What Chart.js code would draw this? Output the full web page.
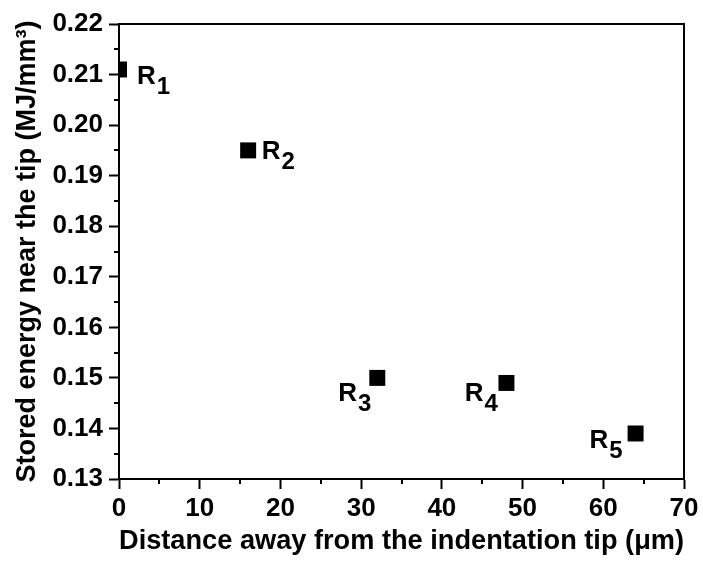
<!DOCTYPE html>
<html>
<head>
<meta charset="utf-8">
<script src="https://cdn.jsdelivr.net/npm/chart.js@4.4.1/dist/chart.umd.min.js"></script>
<style>
  html, body { margin: 0; padding: 0; background: #fff; }
  #c { display: block; }
</style>
</head>
<body>
<canvas id="c" width="703" height="565"></canvas>
<script>
// ---- data ----
const regionNames = ['R', 'R', 'R', 'R', 'R'];
const regionSubs = ['1', '2', '3', '4', '5'];
const distance = [0, 16, 32, 48, 64];            // µm
const storedEnergy = [0.211, 0.195, 0.150, 0.149, 0.139]; // MJ/mm^3
const xTickValues = [0, 10, 20, 30, 40, 50, 60, 70];
const yTickValues = [0.13, 0.14, 0.15, 0.16, 0.17, 0.18, 0.19, 0.20, 0.21, 0.22];
const xMinorTicks = [5, 15, 25, 35, 45, 55, 65];
const yMinorTicks = [0.135, 0.145, 0.155, 0.165, 0.175, 0.185, 0.195, 0.205, 0.215];

// label placement (offsets from marker centre, px) - styling only
const labelPlacement = [
  { dx: 18, dy: 14, align: 'left' },
  { dx: 13.5, dy: 9, align: 'left' },
  { dx: -6, dy: 23, align: 'right' },
  { dx: -8.5, dy: 18.5, align: 'right' },
  { dx: -13, dy: 14, align: 'right' }
];

const FONT = "'Liberation Sans', Arial, sans-serif";

const framePlugin = {
  id: 'frame',
  afterDatasetsDraw(chart) {
    const { ctx, chartArea: a, scales } = chart;
    ctx.save();
    ctx.strokeStyle = '#000';
    ctx.lineWidth = 2;
    ctx.beginPath();
    ctx.moveTo(a.left - 1, a.top);
    ctx.lineTo(a.right, a.top);
    ctx.lineTo(a.right, a.bottom);
    ctx.stroke();
    // minor ticks
    ctx.lineWidth = 2;
    ctx.beginPath();
    xMinorTicks.forEach(v => {
      const px = Math.round(scales.x.getPixelForValue(v));
      ctx.moveTo(px, a.bottom);
      ctx.lineTo(px, a.bottom + 5);
    });
    yMinorTicks.forEach(v => {
      const py = Math.round(scales.y.getPixelForValue(v));
      ctx.moveTo(a.left, py);
      ctx.lineTo(a.left - 5, py);
    });
    ctx.stroke();
    // labels
    ctx.fillStyle = '#000';
    ctx.textBaseline = 'alphabetic';
    distance.forEach((d, i) => {
      const cx = scales.x.getPixelForValue(d);
      const cy = scales.y.getPixelForValue(storedEnergy[i]);
      const p = labelPlacement[i];
      const mainFont = 'bold 26px ' + FONT;
      const subFont = 'bold 24px ' + FONT;
      ctx.font = mainFont;
      const w1 = ctx.measureText(regionNames[i]).width;
      ctx.font = subFont;
      const w2 = ctx.measureText(regionSubs[i]).width;
      let x0 = cx + p.dx;
      if (p.align === 'right') x0 = cx + p.dx - (w1 + 1 + w2);
      const base = cy + p.dy;
      ctx.font = mainFont;
      ctx.fillText(regionNames[i], x0, base);
      ctx.font = subFont;
      ctx.fillText(regionSubs[i], x0 + w1 + 1, base + 10);
    });
    ctx.restore();
  }
};

new Chart(document.getElementById('c'), {
  type: 'scatter',
  data: {
    datasets: [{
      data: distance.map((d, i) => ({ x: d, y: storedEnergy[i] })),
      pointStyle: 'rect',
      pointRadius: 11.3,
      pointHoverRadius: 11.3,
      pointBackgroundColor: '#000',
      pointBorderWidth: 0,
      borderWidth: 0,
      clip: 0
    }]
  },
  options: {
    responsive: false,
    animation: false,
    devicePixelRatio: 1,
    layout: { padding: { left: 0, right: 19, top: 24, bottom: 0 } },
    plugins: { legend: { display: false }, tooltip: { enabled: false } },
    scales: {
      x: {
        type: 'linear',
        min: 0, max: 70,
        afterBuildTicks: s => { s.ticks = xTickValues.map(v => ({ value: v })); },
        afterFit: s => { s.height = 86; },
        grid: { drawOnChartArea: false, drawTicks: true, tickLength: 10, color: '#000', tickWidth: 2 },
        border: { display: true, color: '#000', width: 2 },
        ticks: {
          color: '#000', padding: 4, maxRotation: 0,
          font: { family: FONT, size: 26, weight: 'bold' },
          callback: v => String(v)
        },
        title: {
          display: true,
          text: 'Distance away from the indentation tip (\u03BCm)',
          color: '#000',
          font: { family: FONT, size: 28, weight: 'bold' },
          padding: { top: 0, bottom: 7 }
        }
      },
      y: {
        type: 'linear',
        min: 0.13, max: 0.22,
        afterBuildTicks: s => { s.ticks = yTickValues.map(v => ({ value: v })); },
        afterFit: s => { s.width = 119; },
        grid: { drawOnChartArea: false, drawTicks: true, tickLength: 10, color: '#000', tickWidth: 2 },
        border: { display: true, color: '#000', width: 2 },
        ticks: {
          color: '#000', padding: 6,
          font: { family: FONT, size: 26, weight: 'bold' },
          callback: v => Number(v).toFixed(2)
        },
        title: {
          display: true,
          text: 'Stored energy near the tip (MJ/mm\u00B3)',
          color: '#000',
          font: { family: FONT, size: 27, weight: 'bold' },
          padding: { top: 11, bottom: 0 }
        }
      }
    }
  },
  plugins: [framePlugin]
});
</script>
</body>
</html>
